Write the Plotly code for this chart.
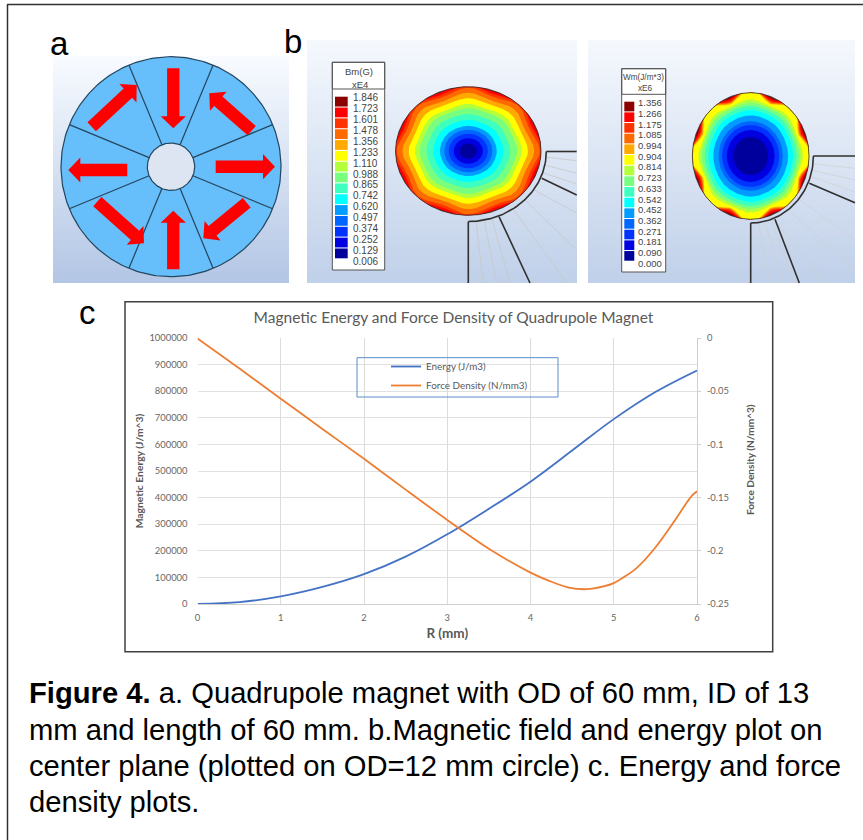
import numpy as np
import plotly.graph_objects as go

W, H = 863, 840
# ---------- main chart data ----------
R_ENERGY = [0, 0.5, 1, 1.5, 2, 2.5, 3, 3.5, 4, 4.5, 5, 5.5, 6]
ENERGY = [0, 7000, 28500, 64000, 112000, 178000, 262000, 358000, 460000, 577000, 695000, 797000, 878000]
R_FORCE = [0, 0.5, 1, 1.5, 2, 2.5, 3, 3.5, 4, 4.275, 4.475, 4.675, 4.876, 5, 5.27, 5.5, 5.72, 5.88, 5.94, 6]
FORCE = [-0.0005, -0.0285, -0.057, -0.0855, -0.1135, -0.1425, -0.171, -0.198, -0.2205, -0.2298, -0.2348,
         -0.2361, -0.2335, -0.2304, -0.2165, -0.1969, -0.173, -0.1543, -0.1481, -0.1441]
Y_TICKS = [0, 100000, 200000, 300000, 400000, 500000, 600000, 700000, 800000, 900000, 1000000]
Y2_TICKS = [0, -0.05, -0.1, -0.15, -0.2, -0.25]
Y2_LABELS = ["0", "-0.05", "-0.1", "-0.15", "-0.2", "-0.25"]
CAPTION = ["<b>Figure 4.</b> a. Quadrupole magnet with OD of 60 mm, ID of 13",
           "mm and length of 60 mm. b.Magnetic field and energy plot on",
           "center plane (plotted on OD=12 mm circle) c. Energy and force",
           "density plots."]
# ---------- panel b data ----------
COLORS = ["#8b0000", "#ff0000", "#ff3300", "#ff6a00", "#ffaa00", "#ffff00", "#b4ff3c", "#78ff80",
          "#3cffc0", "#00ffff", "#009cff", "#0066ff", "#0033ff", "#0000e0", "#00009c"]
BM_LABELS = ["1.846", "1.723", "1.601", "1.478", "1.356", "1.233", "1.110", "0.988", "0.865", "0.742",
             "0.620", "0.497", "0.374", "0.252", "0.129", "0.006"]
WM_LABELS = ["1.356", "1.266", "1.175", "1.085", "0.994", "0.904", "0.814", "0.723", "0.633", "0.542",
             "0.452", "0.362", "0.271", "0.181", "0.090", "0.000"]
BM_F = [1.02, 0.985, 0.945, 0.875, 0.80, 0.72, 0.66, 0.57, 0.48, 0.39, 0.33, 0.27, 0.20, 0.12]
BM_A = [0.035, 0.04, 0.04, 0.035, 0.025, 0.02, 0.015, 0.01, 0.005, 0.003, 0, 0, 0, 0]
WM_F = [1.03, 1.01, 1.0, 0.985, 0.965, 0.875, 0.83, 0.78, 0.72, 0.64, 0.55, 0.49, 0.41, 0.30]
WM_A = [0.06, 0.07, 0.08, 0.08, 0.08, 0.025, 0.015, 0.01, 0.007, 0.004, 0, 0, 0, 0]

fig = go.Figure()
XP = dict(xaxis="x3", yaxis="y3", showlegend=False, hoverinfo="skip")


def poly(xs, ys, fill, line="rgba(0,0,0,0)", width=0):
    fig.add_trace(go.Scatter(x=list(xs), y=list(ys), mode="lines", fill="toself", fillcolor=fill,
                             line=dict(color=line, width=width), **XP))


def seg(x0, y0, x1, y1, color, width):
    fig.add_trace(go.Scatter(x=[x0, x1], y=[y0, y1], mode="lines", line=dict(color=color, width=width), **XP))


def gradient(x0, x1, y0, y1, c0, c1):
    n = int(y1 - y0) // 3
    edges = np.linspace(y0, y1, n + 1)
    fig.add_trace(go.Heatmap(x=[x0, x1], y=edges, z=[[i] for i in range(n)], xaxis="x3", yaxis="y3",
                             colorscale=[[0, c0], [1, c1]], showscale=False, hoverinfo="skip"))


def label(x, y, text, size, color="#000000", font="Liberation Sans", anchor="left", angle=0):
    fig.add_annotation(x=x, y=y, xref="x3", yref="y3", text=text, showarrow=False, xanchor=anchor,
                       yanchor="middle", font=dict(size=size, color=color, family=font),
                       borderpad=0, borderwidth=0, textangle=angle)


shapes = []


def rect(x0, y0, x1, y1, line, width, fill="rgba(0,0,0,0)", layer="above"):
    shapes.append(dict(type="rect", xref="x3", yref="y3", x0=x0, x1=x1, y0=y0, y1=y1,
                       line=dict(color=line, width=width), fillcolor=fill, layer=layer))


# ---------- page frame ----------
seg(7.5, 4.5, 7.5, 840, "#303030", 1.5)
seg(7, 4.5, 863, 4.5, "#303030", 1.5)

# ---------- panel a ----------
gradient(53, 289, 56, 283, "#f8fbff", "#b3c6e5")
CX, CY, RO, RI = 171, 166.7, 110, 23.7
t = np.linspace(0, 2 * np.pi, 241)
poly(CX + RO * np.cos(t), CY + RO * np.sin(t), "#66befa", "#24465e", 1.2)
for k in range(8):
    a = np.radians(22.5 + 45 * k)
    seg(CX + RI * np.cos(a), CY + RI * np.sin(a), CX + RO * np.cos(a), CY + RO * np.sin(a), "#24465e", 1.2)
poly(CX + RI * np.cos(t), CY + RI * np.sin(t), "#dde4f2", "#24465e", 1.2)
# arrows: tail and tip, read in page pixels
ARROW_TAIL = [(173.3, 68.3), (251.7, 130.7), (215.7, 166.7), (246.7, 202.7), (173.3, 269.3), (97.3, 201.7), (127.3, 170), (91.7, 126.7)]
ARROW_TIP = [(173.3, 128.3), (209.3, 93.3), (275, 166.7), (203.3, 238.3), (173.3, 210.7), (144, 243.3), (68.3, 170), (136.7, 85)]
for (x0, y0), (x1, y1) in zip(ARROW_TAIL, ARROW_TIP):
    d = np.hypot(x1 - x0, y1 - y0)
    ux, uy = (x1 - x0) / d, (y1 - y0) / d
    nx, ny = -uy, ux
    w, hw, hl = 6.2, 12.6, 12
    bx, by = x1 - ux * hl, y1 - uy * hl
    poly([x0 + nx * w, bx + nx * w, bx + nx * hw, x1, bx - nx * hw, bx - nx * w, x0 - nx * w, x0 + nx * w],
         [y0 + ny * w, by + ny * w, by + ny * hw, y1, by - ny * hw, by - ny * w, y0 - ny * w, y0 + ny * w],
         "#ff0000")

# ---------- panel b helpers ----------
ang = np.linspace(0, 2 * np.pi, 361)


def disk(cx, cy, rx, ry, fs, amps):
    poly(cx + rx * np.cos(ang), cy - ry * np.sin(ang), COLORS[0])
    for f, am, col in zip(fs, amps, COLORS[1:]):
        r = np.minimum(f * (1 + am * np.cos(8 * (ang - np.pi / 2))), 1.0)
        poly(cx + rx * r * np.cos(ang), cy - ry * r * np.sin(ang), col)
    poly(cx + rx * np.cos(ang), cy - ry * np.sin(ang), "rgba(0,0,0,0)", "#303030", 0.8)


def scale_box(x0, x1, y0, y1, ydiv, head, head_y, sx0, sx1, sy0, sy1, lx, ly0, ly1, labels, fs, head_fs):
    rect(x0, y0, x1, y1, "#555555", 1, "#ffffff")
    rect(x0, y0, x1, ydiv, "#555555", 1)
    for txt, yy, xx in zip(head, head_y, [(x0 + x1) / 2, (x0 + x1) / 2 + 1.5]):
        label(xx, yy, txt, head_fs, "#444444", anchor="center")
    h = (sy1 - sy0) / len(COLORS)
    for i, c in enumerate(COLORS):
        rect(sx0, sy0 + i * h, sx1, sy0 + (i + 1) * h - 1, "rgba(0,0,0,0)", 0, c)
    for i, txt in enumerate(labels):
        label(lx, ly0 + i * (ly1 - ly0) / (len(labels) - 1), txt, fs, "#444444")


# ---------- panel b left ----------
gradient(307, 577, 40, 283, "#f5f8fd", "#c0d0e9")
GRAY_1 = [(546.7, 157.3, 576.7, 160.7), (544.3, 165, 576.7, 173.3), (542.7, 172.7, 576.7, 184),
          (534, 190, 576.7, 213), (525, 200, 576.7, 250), (513, 209, 566.7, 283),
          (476, 221, 483.3, 283), (484, 219.5, 496.7, 283), (491.7, 218.3, 510, 283)]
for a0, b0, a1, b1 in GRAY_1:
    seg(a0, b0, a1, b1, "#c8c8c8", 0.8)
th = np.radians(np.linspace(0, -90, 61))
fig.add_trace(go.Scatter(x=468.3 + 78 * np.cos(th), y=151.5 - 70 * np.sin(th), mode="lines",
                         line=dict(color="#303030", width=1.6), **XP))
seg(546.3, 151.5, 576.7, 151.5, "#303030", 1.6)
seg(468.3, 221.5, 468.3, 283, "#303030", 1.6)
seg(541.7, 178.3, 576.7, 195, "#303030", 1.6)
seg(499, 216.7, 530, 283, "#303030", 1.6)
disk(468.3, 151, 72.7, 64.3, BM_F, BM_A)
scale_box(332.3, 384.7, 62.3, 270, 89, ["Bm(G)", "xE4"], [71.7, 84], 335, 347.7, 96.7, 259.3, 353.3, 97.3, 261.7,
          BM_LABELS, 10, 9.5)

# ---------- panel b right ----------
gradient(588, 855, 40, 283, "#f5f8fd", "#c0d0e9")
GRAY_2 = [(813, 163.7, 855, 168.3), (811, 170, 855, 180), (809.5, 176, 855, 192),
          (797, 198, 855, 240), (787, 208, 855, 270), (772, 217, 825, 283),
          (758.7, 223, 770, 283), (765, 222, 782, 283), (771, 220.5, 795, 283)]
for a0, b0, a1, b1 in GRAY_2:
    seg(a0, b0, a1, b1, "#d0d0d0", 0.7)
fig.add_trace(go.Scatter(x=750.7 + 62.7 * np.cos(th), y=156 - 67 * np.sin(th), mode="lines",
                         line=dict(color="#303030", width=1.6), **XP))
seg(813.3, 156, 855, 156, "#303030", 1.6)
seg(750.7, 223, 750.7, 283, "#303030", 1.6)
seg(809.3, 183.3, 855, 202.7, "#303030", 1.6)
seg(775, 219.3, 799.3, 283, "#303030", 1.6)
disk(750.7, 156, 58.3, 63.3, WM_F, WM_A)
scale_box(621.7, 665.7, 68.7, 272, 94.3, ["Wm(J/m*3)", "xE6"], [77.7, 88.7], 624.3, 634.3, 101.7, 261.7, 638.3,
          102.7, 263.3, WM_LABELS, 9.5, 8.2)

# ---------- chart frame and legend box ----------
rect(125, 301.7, 772.7, 651.7, "#404040", 1.5)
rect(357, 357.7, 558, 397, "#5b8dc8", 1)

# ---------- panel letters and caption ----------
label(50, 43, "a", 33)
label(284, 41.5, "b", 33)
label(79, 312, "c", 33)
for yy, line in zip([693, 729.5, 766, 802], CAPTION):
    label(28.5, yy, line, 29.2)
label(750, 460, "<b>Force Density (N/mm^3)</b>", 10.1, "#595959", "Lato", "center", -90)

# ---------- main traces ----------
fig.add_trace(go.Scatter(x=R_ENERGY, y=ENERGY, mode="lines", name="Energy (J/m3)",
                         line=dict(color="#4472c4", width=1.8, shape="spline", smoothing=1), xaxis="x", yaxis="y"))
fig.add_trace(go.Scatter(x=R_FORCE, y=FORCE, mode="lines", name="Force Density (N/mm3)",
                         line=dict(color="#ed7d31", width=1.8, shape="spline", smoothing=0.8), xaxis="x", yaxis="y2"))

TICK = dict(size=9.4, color="#666666", family="Lato")
TITLE = dict(size=10.3, color="#595959", family="Lato")
fig.update_layout(
    width=W, height=H, margin=dict(l=0, r=0, t=0, b=0, pad=0, autoexpand=False), autosize=False,
    paper_bgcolor="#ffffff", plot_bgcolor="rgba(0,0,0,0)", shapes=shapes,
    title=dict(text="Magnetic Energy and Force Density of Quadrupole Magnet", x=453.5 / W, xanchor="center",
               y=1 - 318 / H, yanchor="middle", font=dict(size=15.5, color="#595959", family="Lato")),
    legend=dict(x=386 / W, y=1 - 352 / H, xanchor="left", yanchor="top", bgcolor="rgba(0,0,0,0)", borderwidth=0,
                font=dict(size=9.9, color="#595959", family="Lato"), itemwidth=30),
    xaxis=dict(domain=[197.5 / W, 697 / W], range=[0, 6], tickvals=[0, 1, 2, 3, 4, 5, 6], gridcolor="#dcdcdc",
               gridwidth=1, zeroline=False, showline=True, linecolor="#cfcfcf", ticks="", tickfont=TICK,
               ticklabelstandoff=5, anchor="y", automargin=False,
               title=dict(text="<b>R (mm)</b>", font=dict(size=13.5, color="#595959", family="Lato"), standoff=6)),
    yaxis=dict(domain=[1 - 604 / H, 1 - 338 / H], range=[0, 1000000], tickvals=Y_TICKS, gridcolor="#e0e0e0",
               tickformat="d", zeroline=False, showline=False, ticks="", tickfont=TICK, ticklabelstandoff=9,
               anchor="x", automargin=False, title=dict(text="<b>Magnetic Energy (J/m^3)</b>", font=TITLE, standoff=3)),
    yaxis2=dict(domain=[1 - 604 / H, 1 - 338 / H], range=[-0.25, 0], tickvals=Y2_TICKS, ticktext=Y2_LABELS,
                overlaying="y", side="right", anchor="x", showgrid=False, zeroline=False, showline=True,
                linecolor="#cfcfcf", ticks="outside", ticklen=3, tickcolor="#cfcfcf", tickfont=TICK,
                ticklabelstandoff=4, automargin=False),
    xaxis3=dict(domain=[0, 1], range=[0, W], visible=False, anchor="y3", fixedrange=True, automargin=False),
    yaxis3=dict(domain=[0, 1], range=[H, 0], visible=False, anchor="x3", fixedrange=True, automargin=False),
)
fig.write_html("out.html", config=dict(displayModeBar=False),
               post_script="document.body.style.margin='0';document.documentElement.style.overflow='hidden';")
